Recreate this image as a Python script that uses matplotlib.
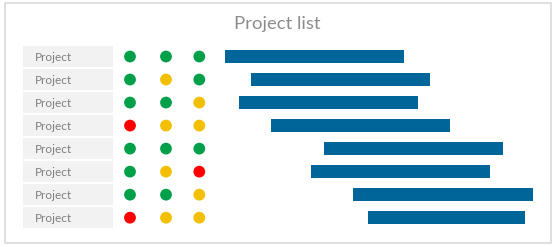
import matplotlib.pyplot as plt
from matplotlib.patches import Rectangle

# data
projects = ["Project"] * 8
status_a = ["green", "green", "green", "red", "green", "green", "green", "red"]
status_b = ["green", "yellow", "green", "yellow", "green", "yellow", "green", "yellow"]
status_c = ["green", "green", "yellow", "yellow", "green", "red", "yellow", "yellow"]
start = [10, 36, 24, 56, 109, 96, 138, 153]
end = [189, 215, 203, 235, 288, 275, 318, 310]

colores = {"green": "#00a04b", "yellow": "#f2c000", "red": "#ff0000"}
azul = "#006699"
gris_txt = "#7f7f7f"

plt.rcParams['font.family'] = ['Lato', 'DejaVu Sans']

W, H = 555, 247
fig = plt.figure(figsize=(W / 100, H / 100), dpi=100)

# marco
marco = fig.add_axes([0, 0, 1, 1])
marco.set_xlim(0, W)
marco.set_ylim(H, 0)
marco.axis('off')
marco.add_patch(Rectangle((4.5, 3.5), 546, 239, fill=False, ec="#d9d9d9", lw=1.2))

fig.text(277.5 / W, 1 - 24.5 / H, "Project list", ha='center', va='center',
         fontsize=13.3, color="#8c8c8c")

n = len(projects)
y_top = 45.0
y_bot = 229.2
b = 1 - y_bot / H
h = (y_bot - y_top) / H

# tabla con etiquetas y semaforos
x0, x1 = 20, 215
ax_t = fig.add_axes([x0 / W, b, (x1 - x0) / W, h])
ax_t.set_xlim(0, x1 - x0)
ax_t.set_ylim(n - 0.5, -0.5)
ax_t.axis('off')
for i in range(n):
    ax_t.add_patch(Rectangle((3, i - 0.45), 90, 0.9, color="#f2f2f2", lw=0))
    ax_t.text(15, i + 0.05, projects[i], ha='left', va='center', fontsize=8.5, color=gris_txt)
filas = list(range(n))
ax_t.scatter([110] * n, filas, s=72, c=[colores[c] for c in status_a], lw=0)
ax_t.scatter([146] * n, filas, s=72, c=[colores[c] for c in status_b], lw=0)
ax_t.scatter([179.3] * n, filas, s=72, c=[colores[c] for c in status_c], lw=0)

# gantt
g0, g1 = 215, 545
ax_g = fig.add_axes([g0 / W, b, (g1 - g0) / W, h])
ax_g.set_xlim(0, g1 - g0)
ax_g.set_ylim(n - 0.5, -0.5)
ax_g.axis('off')
dur = [e - s for s, e in zip(start, end)]
ax_g.barh(filas, dur, left=start, height=0.56, color=azul)

plt.savefig('out.png', dpi=100)
